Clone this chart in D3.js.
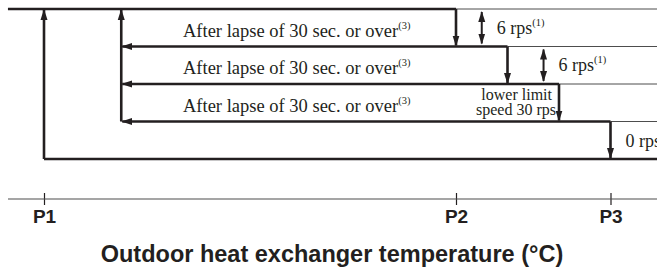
<!DOCTYPE html>
<html>
<head>
<meta charset="utf-8">
<script src="https://cdn.jsdelivr.net/npm/d3@7"></script>
<style>
  body { margin: 0; background: #fff; }
  svg { display: block; }
</style>
</head>
<body>
<div id="app"></div>
<script>
const width = 657
const height = 270

// temperature axis (abstract units) and speed steps
const tickNames = ["P1", "P2", "P3"]
const tickTemps = [0, 8, 11]
const stepLevels = [4, 3, 2, 1, 0]          // top speed ... stop
const dropTemps = [8, 9, 10, 11]            // where each step drops down
const returnTemp = 1.5                      // where the speed returns up
const stopReturnTemp = 0                    // return from stop (P1)
const returnLabels = ["After lapse of 30 sec. or over", "After lapse of 30 sec. or over", "After lapse of 30 sec. or over"]
const deltaTemps = [8.5, 9.7]
const deltaLabels = ["6 rps", "6 rps"]
const domainTemps = [-0.7, 11.9]

const x = d3.scaleLinear().domain([0, 11]).range([44, 610.5])
const y = d3.scaleLinear().domain([0, 4]).range([159, 9])

const ink = "#231f20"
const thin = "#4d4d4d"

const svg = d3.select("#app").append("svg")
    .attr("width", width)
    .attr("height", height)

const defs = svg.append("defs")
defs.append("marker")
    .attr("id", "head")
    .attr("viewBox", "0 -4 11 8")
    .attr("refX", 10)
    .attr("refY", 0)
    .attr("markerWidth", 11)
    .attr("markerHeight", 8)
    .attr("markerUnits", "userSpaceOnUse")
    .attr("orient", "auto-start-reverse")
    .append("path")
    .attr("d", "M0,-3.5L11,0L0,3.5Z")
    .attr("fill", ink)

// thin reference lines to the right of each drop
svg.append("g").selectAll("line")
    .data(dropTemps)
    .join("line")
    .attr("x1", d => x(d))
    .attr("x2", width)
    .attr("y1", (d, i) => y(stepLevels[i]))
    .attr("y2", (d, i) => y(stepLevels[i]))
    .attr("stroke", thin)
    .attr("stroke-width", 1)

const thick = svg.append("g")
    .attr("stroke", ink)
    .attr("stroke-width", 2.6)
    .attr("fill", "none")

// top running line
thick.append("line")
    .attr("x1", x(domainTemps[0])).attr("x2", x(dropTemps[0]))
    .attr("y1", y(stepLevels[0])).attr("y2", y(stepLevels[0]))

// drops
dropTemps.forEach((t, i) => {
    thick.append("line")
        .attr("x1", x(t)).attr("x2", x(t))
        .attr("y1", y(stepLevels[i])).attr("y2", y(stepLevels[i + 1]) - 1)
        .attr("marker-end", "url(#head)")
})

// intermediate return lines (right to left)
stepLevels.slice(1, 4).forEach((lv, i) => {
    thick.append("line")
        .attr("x1", x(dropTemps[i + 1])).attr("x2", x(returnTemp) + 1)
        .attr("y1", y(lv)).attr("y2", y(lv))
        .attr("marker-end", "url(#head)")
})

// stop line
thick.append("line")
    .attr("x1", x(stopReturnTemp)).attr("x2", width)
    .attr("y1", y(0)).attr("y2", y(0))

// return up arrows
thick.append("line")
    .attr("x1", x(returnTemp)).attr("x2", x(returnTemp))
    .attr("y1", y(1)).attr("y2", y(4) + 1)
    .attr("marker-end", "url(#head)")
thick.append("line")
    .attr("x1", x(stopReturnTemp)).attr("x2", x(stopReturnTemp))
    .attr("y1", y(0)).attr("y2", y(4) + 1)
    .attr("marker-end", "url(#head)")

// delta arrows
deltaTemps.forEach((t, i) => {
    thick.append("line")
        .attr("stroke-width", 2)
        .attr("x1", x(t)).attr("x2", x(t))
        .attr("y1", y(stepLevels[i]) + 3).attr("y2", y(stepLevels[i + 1]) - 3)
        .attr("marker-start", "url(#head)")
        .attr("marker-end", "url(#head)")
})

const serif = "'Liberation Serif', 'DejaVu Serif', serif"
const sans = "'Liberation Sans', Arial, sans-serif"

// return labels
returnLabels.forEach((s, i) => {
    const t = svg.append("text")
        .attr("x", 183)
        .attr("y", y(stepLevels[i + 1]) - 10)
        .attr("font-family", serif)
        .attr("font-size", 18.5)
        .attr("fill", ink)
    t.append("tspan").text(s)
    t.append("tspan").attr("font-size", 10.5).attr("dy", -8).text("(3)")
})

// delta labels
deltaLabels.forEach((s, i) => {
    const t = svg.append("text")
        .attr("x", x(deltaTemps[i]) + 15)
        .attr("y", (y(stepLevels[i]) + y(stepLevels[i + 1])) / 2 + 6)
        .attr("font-family", serif)
        .attr("font-size", 18)
        .attr("fill", ink)
    t.append("tspan").text(s)
    t.append("tspan").attr("font-size", 10.5).attr("dy", -8).text("(1)")
})

// lower limit label
const ll = svg.append("text")
    .attr("text-anchor", "end")
    .attr("font-family", serif)
    .attr("font-size", 16)
    .attr("fill", ink)
ll.append("tspan").attr("x", x(dropTemps[2]) - 7).attr("y", y(2) + 16).text("lower limit")
ll.append("tspan").attr("x", x(dropTemps[2]) - 3).attr("y", y(2) + 31).text("speed 30 rps")

svg.append("text")
    .attr("x", x(dropTemps[3]) + 15)
    .attr("y", y(0) - 12)
    .attr("font-family", serif)
    .attr("font-size", 18)
    .attr("fill", ink)
    .text("0 rps")

// temperature axis
const axisY = 199
const axis = svg.append("g")
    .attr("transform", `translate(0,${axisY})`)
    .call(d3.axisBottom(x).tickValues(tickTemps).tickFormat((d, i) => tickNames[i]).tickSize(6))
axis.select(".domain").remove()
axis.append("line")
    .attr("x1", x(domainTemps[0])).attr("x2", width)
    .attr("stroke", thin).attr("stroke-width", 1.2)
axis.selectAll(".tick line")
    .attr("y1", -6).attr("y2", 6)
    .attr("stroke", ink).attr("stroke-width", 1.2)
axis.selectAll(".tick text")
    .attr("y", 24)
    .attr("dy", 0)
    .attr("font-family", sans)
    .attr("font-weight", "bold")
    .attr("font-size", 19)
    .attr("fill", ink)

svg.append("text")
    .attr("x", 332)
    .attr("y", 262)
    .attr("text-anchor", "middle")
    .attr("font-family", sans)
    .attr("font-weight", "bold")
    .attr("font-size", 23.5)
    .attr("fill", ink)
    .text("Outdoor heat exchanger temperature (°C)")
</script>
</body>
</html>
